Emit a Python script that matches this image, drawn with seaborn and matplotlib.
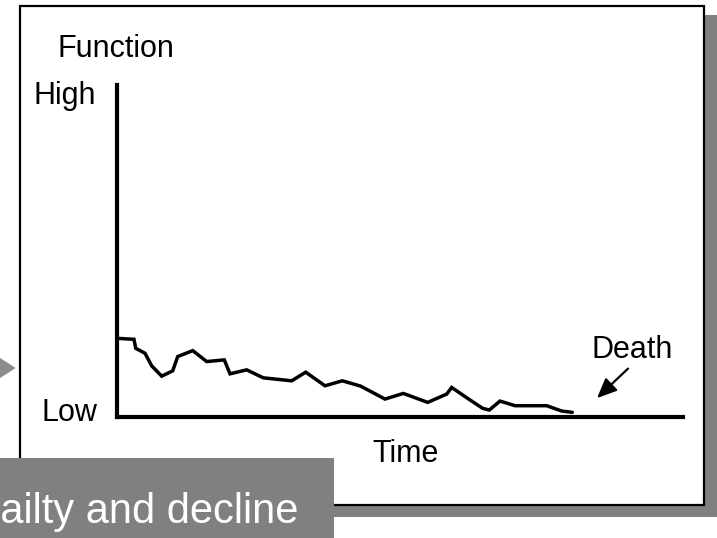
import matplotlib
matplotlib.use("Agg")
import matplotlib.pyplot as plt
import seaborn as sns
import pandas as pd
from matplotlib.patches import Rectangle, Polygon, FancyArrowPatch

# ---- data ----
time_vals = [0, 17, 18.7, 28, 34.7, 44.7, 55.7, 60.7, 75.7, 89.7, 107.3, 113, 129.7,
             146.3, 174.7, 188.7, 208, 225.3, 243.7, 268, 286.3, 310.7, 329.7, 334.7,
             349.7, 365.7, 372.3, 383, 398, 429.7, 444.7, 455.3]
function_vals = [23.7, 23.4, 20.7, 19.2, 15.4, 12.3, 13.9, 18.2, 20.0, 16.7, 17.2, 13.0,
                 14.2, 11.8, 10.9, 13.5, 9.4, 10.9, 9.3, 5.4, 7.1, 4.4, 6.9, 8.9, 5.8,
                 2.6, 2.1, 4.8, 3.4, 3.4, 1.8, 1.4]
y_tick_labels = ["Low", "High"]
y_title = "Function"
x_title = "Time"
annotation_text = "Death"
banner_text = "Frailty and decline"

W, H = 717, 538

sns.set_style("white")
plt.rcParams["font.family"] = ["Liberation Sans", "DejaVu Sans"]
plt.rcParams["text.color"] = "black"

fig = plt.figure(figsize=(W / 100, H / 100), dpi=100)
fig.patch.set_facecolor("white")


def fx(x):
    return x / W


def fy(y):
    return 1 - y / H


# background shadow + white framed box
fig.add_artist(Rectangle((fx(28), fy(517)), fx(740 - 28), (517 - 15) / H,
                         transform=fig.transFigure, facecolor="#808080",
                         edgecolor="none", zorder=-3))
fig.add_artist(Rectangle((fx(20), fy(505)), fx(704 - 20), (505 - 6) / H,
                         transform=fig.transFigure, facecolor="white",
                         edgecolor="black", lw=1.6, zorder=-2))

# main axes
left, right, top, bottom = 117, 683, 85, 417
ax = fig.add_axes([fx(left), fy(bottom), fx(right - left), (bottom - top) / H])
ax.set_facecolor("none")
df = pd.DataFrame({"time": time_vals, "function": function_vals})
sns.lineplot(data=df, x="time", y="function", ax=ax, color="black", lw=2.5,
             estimator=None, sort=False, solid_joinstyle="miter")
ax.set_xlim(0, right - left)
ax.set_ylim(0, 100)
ax.set_xticks([])
ax.set_yticks([])
ax.set_xlabel("")
ax.set_ylabel("")
for s in ["top", "right"]:
    ax.spines[s].set_visible(False)
for s in ["left", "bottom"]:
    ax.spines[s].set_color("black")
    ax.spines[s].set_linewidth(3.0)

fs = 22
fig.text(fx(57), fy(57), y_title, fontsize=fs, va="baseline", ha="left")
fig.text(fx(33), fy(104), y_tick_labels[1], fontsize=fs, va="baseline", ha="left")
fig.text(fx(42), fy(421), y_tick_labels[0], fontsize=fs, va="baseline", ha="left")
fig.text(fx(372), fy(462), x_title, fontsize=fs, va="baseline", ha="left")
fig.text(fx(591), fy(358), annotation_text, fontsize=fs, va="baseline", ha="left")

# death arrow
fig.add_artist(FancyArrowPatch((fx(630), fy(366.7)), (fx(595), fy(400)),
                               transform=fig.transFigure,
                               arrowstyle="-|>,head_length=0.8,head_width=0.35",
                               mutation_scale=15, lw=1.6, color="black", zorder=4))

# small gray pointer at the left edge
fig.add_artist(Polygon([(fx(-3), fy(356)), (fx(15.7), fy(368)), (fx(-3), fy(380))],
                       closed=True, transform=fig.transFigure,
                       facecolor="#8c8c8c", edgecolor="none", zorder=4))

# gray banner bottom-left
fig.add_artist(Rectangle((fx(-5), fy(545)), fx(334 + 5), (545 - 458) / H,
                         transform=fig.transFigure, facecolor="#808080",
                         edgecolor="none", zorder=5))
fig.text(fx(298), fy(523), banner_text, fontsize=30, color="white",
         va="baseline", ha="right", zorder=6)

fig.savefig("out.png", dpi=100)
